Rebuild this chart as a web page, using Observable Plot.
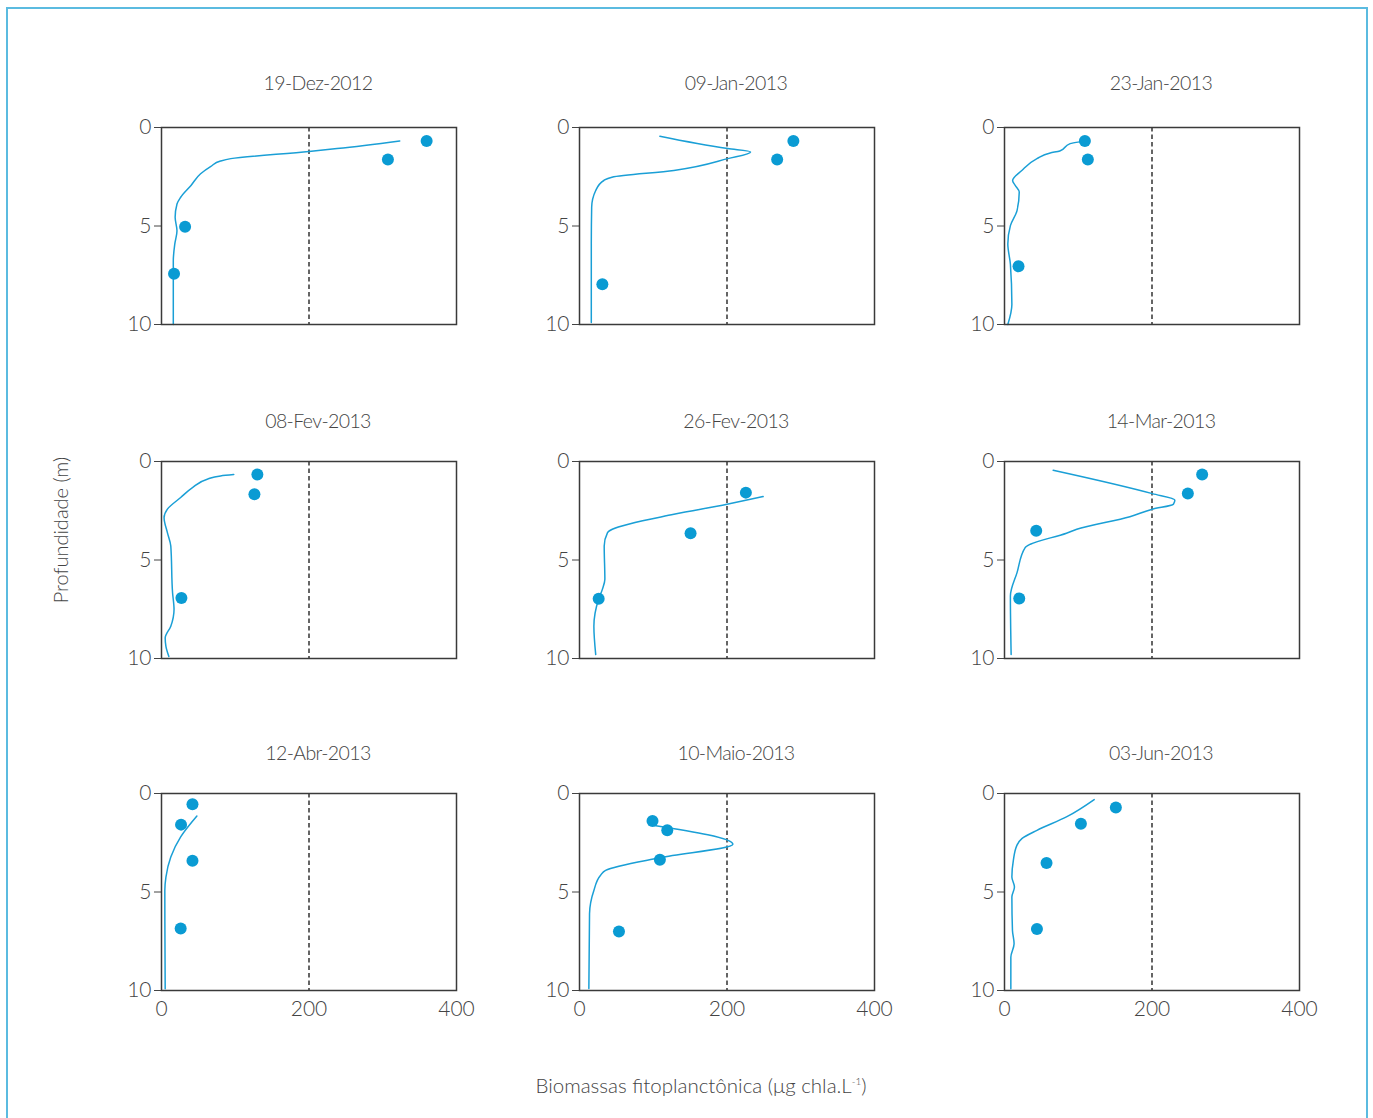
<!DOCTYPE html>
<html>
<head>
<meta charset="utf-8">
<script src="https://cdn.jsdelivr.net/npm/d3@7"></script>
<script src="https://cdn.jsdelivr.net/npm/@observablehq/plot@0.6"></script>
<style>
  html, body { margin: 0; padding: 0; overflow: hidden; background: #fff; }
  body { width: 1373px; height: 1118px; position: relative; font-family: Lato, "Open Sans", sans-serif; font-weight: 300; color: #444; }
  #frame { position: absolute; left: 6px; top: 7px; width: 1362px; height: 1200px; border: 2px solid #5bbbe0; box-sizing: border-box; }
  .panel { position: absolute; }
  .panel .title text { letter-spacing: -0.6px; }
  #ylabel { position: absolute; left: 60px; top: 530px; transform: translate(-50%, -50%) rotate(-90deg); font-size: 20px; white-space: nowrap; }
  #xlabel { position: absolute; left: 701px; top: 1085px; transform: translate(-50%, -50%); font-size: 20.5px; white-space: nowrap; }
  #xlabel sup { font-size: 10px; vertical-align: 8px; }
</style>
</head>
<body>
<div id="frame"></div>
<div id="ylabel">Profundidade (m)</div>
<div id="xlabel">Biomassas fitoplanctônica (μg chla.L<sup>-1</sup>)</div>
<script>
// ---- Data ----
const dates = ["19-Dez-2012", "09-Jan-2013", "23-Jan-2013", "08-Fev-2013", "26-Fev-2013", "14-Mar-2013", "12-Abr-2013", "10-Maio-2013", "03-Jun-2013"];

// Continuous profiles (biomass vs depth)
const profileBiomass = [
  [323, 238, 200, 94, 80, 67, 53, 40, 26, 21, 18.5, 21, 18, 16, 16],
  [109, 201, 232, 201, 128, 44, 33, 22, 16.5, 16, 16],
  [102, 89, 75, 62, 44, 23.5, 11, 14.5, 20, 17, 8, 4.5, 8, 10, 4.5],
  [98, 80, 62, 42, 26, 8, 3.5, 8, 12.6, 15, 17, 12.6, 5, 6, 10],
  [249, 200, 128, 44.5, 38, 33.5, 34.4, 31, 26, 19.5, 22],
  [66, 200.5, 231, 229, 200.5, 170, 98, 84, 35, 28, 17, 8, 9],
  [48, 26, 12.6, 6, 4.5, 5],
  [99, 208, 110, 35.4, 28.6, 19.5, 13.6, 12.7],
  [121.6, 84, 44, 23.5, 16.8, 12, 10, 13.5, 10, 10.8, 13, 8.6, 8.6]
];
const profileDepth = [
  [0.68, 1.07, 1.22, 1.58, 1.70, 1.97, 2.35, 2.94, 3.54, 3.88, 4.56, 5.24, 5.92, 6.77, 10],
  [0.44, 1.07, 1.24, 1.58, 2.18, 2.52, 2.69, 3.2, 4.05, 5.9, 9.9],
  [0.73, 0.82, 1.19, 1.29, 1.58, 2.18, 2.69, 2.94, 3.28, 4.22, 4.98, 5.92, 6.94, 8.98, 10],
  [0.66, 0.73, 0.9, 1.32, 1.83, 2.42, 2.85, 3.61, 4.29, 6.66, 7.51, 8.36, 8.96, 9.38, 9.9],
  [1.78, 2.17, 2.68, 3.44, 3.61, 4.29, 5.98, 6.49, 6.98, 8.36, 9.8],
  [0.44, 1.63, 1.96, 2.17, 2.42, 2.8, 3.44, 3.64, 4.2, 4.37, 5.64, 6.83, 9.8],
  [1.14, 2.2, 3.22, 4.24, 4.92, 9.91],
  [1.61, 2.58, 3.25, 3.9, 4.15, 4.92, 6.1, 9.9],
  [0.31, 1.19, 1.87, 2.29, 2.63, 3.39, 4.24, 4.75, 5.26, 6.95, 7.63, 8.31, 9.91]
];

// Discrete samples
const sampleBiomass = [
  [359.5, 307, 32, 17],
  [290, 268, 31],
  [109, 113, 19],
  [130, 126, 27],
  [225.6, 150.6, 26],
  [268, 248.6, 43, 20],
  [42, 26.5, 42, 26],
  [99, 119, 109, 53.5],
  [151, 103.6, 57, 44]
];
const sampleDepth = [
  [0.68, 1.63, 5.04, 7.42],
  [0.68, 1.63, 7.96],
  [0.68, 1.63, 7.04],
  [0.66, 1.66, 6.93],
  [1.58, 3.64, 6.97],
  [0.66, 1.63, 3.52, 6.95],
  [0.54, 1.58, 3.41, 6.85],
  [1.39, 1.87, 3.36, 7.0],
  [0.71, 1.53, 3.53, 6.88]
];

const xTicks = [0, 200, 400];
const yTicks = [0, 5, 10];
const thresholdValue = [200];

// ---- Layout ----
const colLeft = [160.7, 579, 1004.3];
const rowTop = [127.3, 460.7, 793.3];
const titleOffset = [44, 40, 40];
const innerW = 295, innerH = 197;
const mL = 50, mR = 12, mT = 56, mB = 45;
const fontFamily = "Lato, 'Open Sans', sans-serif";
const lineColor = "#1a9fd6";
const dotColor = "#0a9bd3";

dates.forEach((date, i) => {
  const r = Math.floor(i / 3), c = i % 3;
  const isBottom = r === 2;
  const profile = profileBiomass[i].map((b, k) => ({b, d: profileDepth[i][k]}));
  const samples = sampleBiomass[i].map((b, k) => ({b, d: sampleDepth[i][k]}));
  const chart = Plot.plot({
    width: mL + innerW + mR,
    height: mT + innerH + mB,
    marginLeft: mL, marginRight: mR, marginTop: mT, marginBottom: mB,
    style: {fontFamily, fontSize: "21px", fontWeight: 300, color: "#444", background: "transparent", overflow: "visible"},
    x: {domain: [0, 400], ticks: xTicks, axis: isBottom ? "bottom" : null, tickSize: 0, tickPadding: 11, label: null},
    y: {domain: [0, 10], reverse: true, ticks: yTicks, tickSize: 7, tickPadding: 3, label: null},
    marks: [
      Plot.ruleX(thresholdValue, {stroke: "#333", strokeWidth: 1.5, strokeDasharray: "4.5,3"}),
      Plot.line(profile, {x: "b", y: "d", curve: "monotone-y", stroke: lineColor, strokeWidth: 1.5}),
      Plot.dot(samples, {x: "b", y: "d", r: 6, fill: dotColor, stroke: "none"}),
      Plot.frame({stroke: "#3a3a3a", strokeWidth: 1.5}),
      Plot.text([date], {text: d => d, frameAnchor: "top", lineAnchor: "middle", dy: -titleOffset[r], dx: 9, fontSize: 19.5, fill: "#444", fontWeight: 300, className: "title"})
    ]
  });
  const wrap = document.createElement("div");
  wrap.className = "panel";
  wrap.style.left = (colLeft[c] - mL) + "px";
  wrap.style.top = (rowTop[r] - mT) + "px";
  wrap.appendChild(chart);
  document.body.appendChild(wrap);
});
</script>
</body>
</html>
